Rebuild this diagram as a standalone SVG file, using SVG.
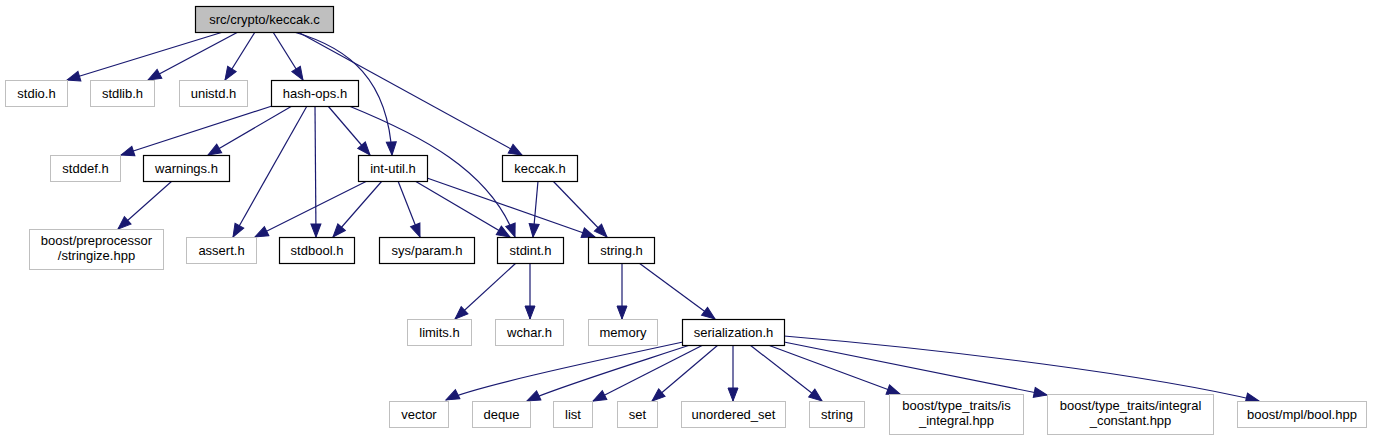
<svg xmlns="http://www.w3.org/2000/svg" width="1374" height="440" viewBox="0 0 1374 440">
<style>
.box{fill:#ffffff;stroke-width:1}
.g{stroke:#bfbfbf}
.b{stroke:#000000;stroke-width:1.2}
.root{fill:#bfbfbf;stroke:#000000;stroke-width:1.2}
text{font-family:"Liberation Sans",Arial,Helvetica,sans-serif;font-size:13px;fill:#000000;text-anchor:middle}
.e{fill:none;stroke:#191970;stroke-width:1.2;marker-end:url(#arr)}
</style>
<defs>
<marker id="arr" markerUnits="userSpaceOnUse" markerWidth="14" markerHeight="11" refX="13" refY="5" orient="auto" overflow="visible">
<path d="M0,0 L13,5 L0,10 Z" fill="#191970" stroke="#191970" stroke-width="1"/>
</marker>
</defs>
<rect x="0" y="0" width="1374" height="440" fill="#ffffff"/>
<g id="connectors">
<path class="e" d="M223,32 L67,80"/>
<path class="e" d="M238,32 L148,80"/>
<path class="e" d="M255,32 L225,80"/>
<path class="e" d="M273,32 L303,80"/>
<path class="e" d="M294,32 C350,48 388,80 392,155"/>
<path class="e" d="M298,32 L522,155"/>
<path class="e" d="M272,106 L121,155"/>
<path class="e" d="M292,106 L208,155"/>
<path class="e" d="M307,106 L233,237"/>
<path class="e" d="M315,106 L316,237"/>
<path class="e" d="M328,106 L370,155"/>
<path class="e" d="M349,106 C420,135 490,170 515,237"/>
<path class="e" d="M367,181 L255,237"/>
<path class="e" d="M382,181 L333,237"/>
<path class="e" d="M398,181 L420,237"/>
<path class="e" d="M415,181 L510,237"/>
<path class="e" d="M427,178 L595,237"/>
<path class="e" d="M538,181 L533,237"/>
<path class="e" d="M553,181 L607,237"/>
<path class="e" d="M172,181 L118,229"/>
<path class="e" d="M516,263 L455,319"/>
<path class="e" d="M530,263 L530,319"/>
<path class="e" d="M622,263 L622,319"/>
<path class="e" d="M639,263 L715,319"/>
<path class="e" d="M683,342 C580,364 470,388 446,400"/>
<path class="e" d="M690,345 C620,368 550,390 527,401"/>
<path class="e" d="M703,345 L593,401"/>
<path class="e" d="M718,345 L652,401"/>
<path class="e" d="M733,345 L733,401"/>
<path class="e" d="M750,345 L822,401"/>
<path class="e" d="M768,345 L900,394"/>
<path class="e" d="M784,342 L1047,395"/>
<path class="e" d="M784,336 C950,350 1150,375 1259,401"/>
</g>
<g id="n_root"><rect class="root" x="195.5" y="6.5" width="138" height="26"/><text x="264.5" y="24">src/crypto/keccak.c</text></g>
<g id="n_stdio"><rect class="box g" x="5.5" y="80.5" width="62" height="26"/><text x="36.5" y="98">stdio.h</text></g>
<g id="n_stdlib"><rect class="box g" x="90.5" y="80.5" width="64" height="26"/><text x="122.5" y="98">stdlib.h</text></g>
<g id="n_unistd"><rect class="box g" x="179.5" y="80.5" width="68" height="26"/><text x="213.5" y="98">unistd.h</text></g>
<g id="n_hashops"><rect class="box b" x="271.5" y="80.5" width="87" height="26"/><text x="315" y="98">hash-ops.h</text></g>
<g id="n_stddef"><rect class="box g" x="50.5" y="155.5" width="70" height="26"/><text x="85.5" y="173">stddef.h</text></g>
<g id="n_warnings"><rect class="box b" x="143.5" y="155.5" width="86" height="26"/><text x="186.5" y="173">warnings.h</text></g>
<g id="n_intutil"><rect class="box b" x="358.5" y="155.5" width="69" height="26"/><text x="393" y="173">int-util.h</text></g>
<g id="n_keccakh"><rect class="box b" x="502.5" y="155.5" width="75" height="26"/><text x="540" y="173">keccak.h</text></g>
<g id="n_stringize"><rect class="box g" x="29.5" y="229.5" width="134" height="40"/><text x="96.5" y="245">boost/preprocessor</text><text x="96.5" y="260">/stringize.hpp</text></g>
<g id="n_assert"><rect class="box g" x="186.5" y="237.5" width="70" height="26"/><text x="221.5" y="255">assert.h</text></g>
<g id="n_stdbool"><rect class="box b" x="279.5" y="237.5" width="75" height="26"/><text x="317" y="255">stdbool.h</text></g>
<g id="n_sysparam"><rect class="box b" x="379.5" y="237.5" width="95" height="26"/><text x="427" y="255">sys/param.h</text></g>
<g id="n_stdint"><rect class="box b" x="497.5" y="237.5" width="66" height="26"/><text x="530.5" y="255">stdint.h</text></g>
<g id="n_string_h"><rect class="box b" x="588.5" y="237.5" width="66" height="26"/><text x="621.5" y="255">string.h</text></g>
<g id="n_limits"><rect class="box g" x="407.5" y="319.5" width="64" height="26"/><text x="439.5" y="337">limits.h</text></g>
<g id="n_wchar"><rect class="box g" x="495.5" y="319.5" width="68" height="26"/><text x="529.5" y="337">wchar.h</text></g>
<g id="n_memory"><rect class="box g" x="588.5" y="319.5" width="69" height="26"/><text x="623" y="337">memory</text></g>
<g id="n_serialization"><rect class="box b" x="682.5" y="319.5" width="102" height="26"/><text x="733.5" y="337">serialization.h</text></g>
<g id="n_vector"><rect class="box g" x="389.5" y="401.5" width="59" height="26"/><text x="419" y="419">vector</text></g>
<g id="n_deque"><rect class="box g" x="472.5" y="401.5" width="58" height="26"/><text x="501.5" y="419">deque</text></g>
<g id="n_list"><rect class="box g" x="553.5" y="401.5" width="39" height="26"/><text x="573" y="419">list</text></g>
<g id="n_set"><rect class="box g" x="617.5" y="401.5" width="40" height="26"/><text x="637.5" y="419">set</text></g>
<g id="n_unordered_set"><rect class="box g" x="681.5" y="401.5" width="104" height="26"/><text x="733.5" y="419">unordered_set</text></g>
<g id="n_string"><rect class="box g" x="809.5" y="401.5" width="55" height="26"/><text x="837" y="419">string</text></g>
<g id="n_is_integral"><rect class="box g" x="889.5" y="394.5" width="134" height="40"/><text x="956.5" y="410">boost/type_traits/is</text><text x="956.5" y="425">_integral.hpp</text></g>
<g id="n_integral_constant"><rect class="box g" x="1047.5" y="394.5" width="166" height="40"/><text x="1130.5" y="410">boost/type_traits/integral</text><text x="1130.5" y="425">_constant.hpp</text></g>
<g id="n_bool"><rect class="box g" x="1237.5" y="401.5" width="129" height="26"/><text x="1302" y="419">boost/mpl/bool.hpp</text></g>
</svg>
